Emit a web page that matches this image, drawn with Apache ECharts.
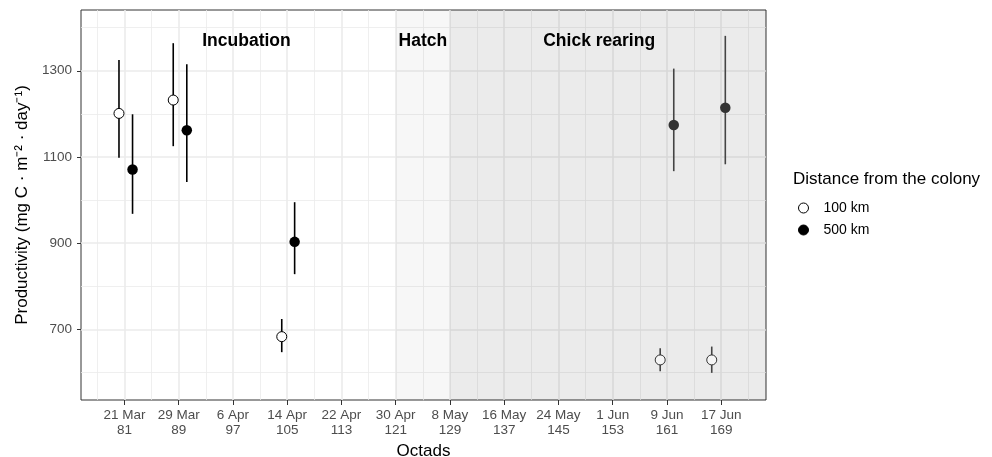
<!DOCTYPE html>
<html>
<head>
<meta charset="utf-8" />
<script src="https://cdn.jsdelivr.net/npm/echarts@6/dist/echarts.min.js"></script>
</head>
<body style="margin:0; background:#fff">
<div id="chart" style="width:992px;height:457px"></div>
<script>
// octad start day and its calendar date
const octadDays = [81, 89, 97, 105, 113, 121, 129, 137, 145, 153, 161, 169];
const octadDates = ['21 Mar', '29 Mar', '6 Apr', '14 Apr', '22 Apr', '30 Apr', '8 May', '16 May', '24 May', '1 Jun', '9 Jun', '17 Jun'];
const minorDays = [77, 85, 93, 101, 109, 117, 125, 133, 141, 149, 157, 165, 173];
const yTicks = [700, 900, 1100, 1300];
const yMinor = [600, 800, 1000, 1200, 1400];

// 100 km from the colony (mean and interval)
const x100 = [80.2, 88.2, 104.2, 160.0, 167.6];
const mean100 = [1201, 1232, 683, 629, 629];
const lo100 = [1098, 1125, 647, 603, 599];
const hi100 = [1325, 1364, 724, 656, 660];

// 500 km from the colony
const x500 = [82.2, 90.2, 106.1, 162.0, 169.6];
const mean500 = [1071, 1162, 903, 1174, 1214];
const lo500 = [968, 1042, 828, 1067, 1083];
const hi500 = [1199, 1315, 995, 1305, 1381];

// breeding phases
const phaseNames = ['Incubation', 'Hatch', 'Chick rearing'];
const phaseStart = [77, 121, 129];
const phaseEnd = [121, 129, 173];
const phaseLabelY = 1368;

const xMin = 74.6, xMax = 175.6;
const yMin = 536, yMax = 1441;
const chickStart = phaseStart[2];

var myChart = echarts.init(document.getElementById('chart'));
var font = "'Liberation Sans', Arial, sans-serif";

function pointData(xs, ms, fill, chickFill, border, chickBorder) {
  return xs.map(function (x, i) {
    var chick = x >= chickStart;
    return {
      value: [x, ms[i]],
      itemStyle: { color: chick ? chickFill : fill, borderColor: chick ? chickBorder : border }
    };
  });
}

function barData(xs, lo, hi) {
  return xs.map(function (x, i) { return [x, lo[i], hi[i]]; });
}

function renderBar(params, api) {
  var x = api.value(0);
  var p1 = api.coord([x, api.value(1)]);
  var p2 = api.coord([x, api.value(2)]);
  return {
    type: 'line',
    shape: { x1: p1[0], y1: p1[1], x2: p2[0], y2: p2[1] },
    style: { stroke: x >= chickStart ? '#444' : '#000', lineWidth: 1.6 }
  };
}

var labelStyle = { color: '#4d4d4d', fontSize: 13.5, fontFamily: font };

var option = {
  animation: false,
  textStyle: { fontFamily: font },
  title: {
    text: 'Distance from the colony',
    left: 793,
    top: 171,
    padding: 0,
    textStyle: { fontSize: 17, fontWeight: 'normal', color: '#000', fontFamily: font }
  },
  legend: {
    data: ['100 km', '500 km'],
    orient: 'vertical',
    left: 798,
    top: 201,
    padding: 0,
    itemWidth: 10,
    itemHeight: 10,
    itemGap: 8,
    selectedMode: false,
    itemStyle: { borderWidth: 1 },
    textStyle: { fontSize: 14, color: '#000', lineHeight: 14, padding: [0, 0, 0, 10], fontFamily: font }
  },
  grid: {
    left: 81, right: 226, top: 10, bottom: 57,
    containLabel: false, outerBoundsMode: 'none',
    show: true, borderColor: '#333', borderWidth: 1, backgroundColor: '#fff'
  },
  xAxis: [
    {
      type: 'value', min: xMin, max: xMax,
      name: 'Octads', nameLocation: 'middle', nameGap: 37,
      nameTextStyle: { fontSize: 17, color: '#000', fontFamily: font },
      axisLine: { show: false },
      axisTick: { show: true, length: 5, customValues: octadDays, lineStyle: { color: '#333' } },
      axisLabel: Object.assign({
        customValues: octadDays, margin: 8, lineHeight: 15,
        formatter: function (v) {
          var i = octadDays.indexOf(v);
          return octadDates[i] + '\n' + v;
        }
      }, labelStyle),
      splitLine: { show: true, lineStyle: { color: '#ebebeb', width: 1.6 } }
    },
    {
      type: 'value', min: xMin, max: xMax, position: 'bottom',
      axisLine: { show: false }, axisLabel: { show: false },
      axisTick: { show: false, customValues: minorDays },
      splitLine: { show: true, lineStyle: { color: '#ebebeb', width: 0.8 } }
    }
  ],
  yAxis: [
    {
      type: 'value', min: yMin, max: yMax,
      name: 'Productivity (mg C \u00b7 m\u207b\u00b2 \u00b7 day\u207b\u00b9)',
      nameLocation: 'middle', nameGap: 44,
      nameTextStyle: { fontSize: 17, color: '#000', fontFamily: font },
      axisLine: { show: false },
      axisTick: { show: true, length: 4, customValues: yTicks, lineStyle: { color: '#333' } },
      axisLabel: Object.assign({
        customValues: yTicks, margin: 9,
        formatter: function (v) { return String(v); }
      }, labelStyle),
      splitLine: { show: true, lineStyle: { color: '#ebebeb', width: 1.6 } }
    },
    {
      type: 'value', min: yMin, max: yMax, position: 'left',
      axisLine: { show: false }, axisLabel: { show: false },
      axisTick: { show: false, customValues: yMinor },
      splitLine: { show: true, lineStyle: { color: '#ebebeb', width: 0.8 } }
    }
  ],
  series: [
    {
      type: 'line', data: [], silent: true, z: 1,
      markArea: {
        silent: true,
        data: [
          [{ xAxis: phaseStart[1], itemStyle: { color: 'rgba(0,0,0,0.032)' } }, { xAxis: phaseEnd[1] }],
          [{ xAxis: phaseStart[2], itemStyle: { color: 'rgba(0,0,0,0.08)' } }, { xAxis: xMax }]
        ]
      }
    },
    {
      type: 'scatter', silent: true, symbolSize: 0, z: 3,
      itemStyle: { opacity: 1 },
      data: phaseNames.map(function (n, i) {
        return { name: n, value: [(phaseStart[i] + phaseEnd[i]) / 2, phaseLabelY] };
      }),
      label: {
        show: true, position: 'inside', formatter: '{b}',
        fontSize: 17.5, fontWeight: 'bold', color: '#000', fontFamily: font
      }
    },
    {
      name: 'bars100', type: 'custom', renderItem: renderBar, z: 4,
      data: barData(x100, lo100, hi100)
    },
    {
      name: 'bars500', type: 'custom', renderItem: renderBar, z: 4,
      data: barData(x500, lo500, hi500)
    },
    {
      name: '100 km', type: 'scatter', symbol: 'circle', symbolSize: 10, z: 5,
      itemStyle: { color: '#fff', borderColor: '#000', borderWidth: 1, opacity: 1 },
      data: pointData(x100, mean100, '#fff', '#f5f5f5', '#000', '#333')
    },
    {
      name: '500 km', type: 'scatter', symbol: 'circle', symbolSize: 10.5, z: 5,
      itemStyle: { color: '#000', borderColor: '#000', borderWidth: 0, opacity: 1 },
      data: pointData(x500, mean500, '#000', '#333', '#000', '#333')
    }
  ]
};

myChart.setOption(option);
</script>
</body>
</html>
